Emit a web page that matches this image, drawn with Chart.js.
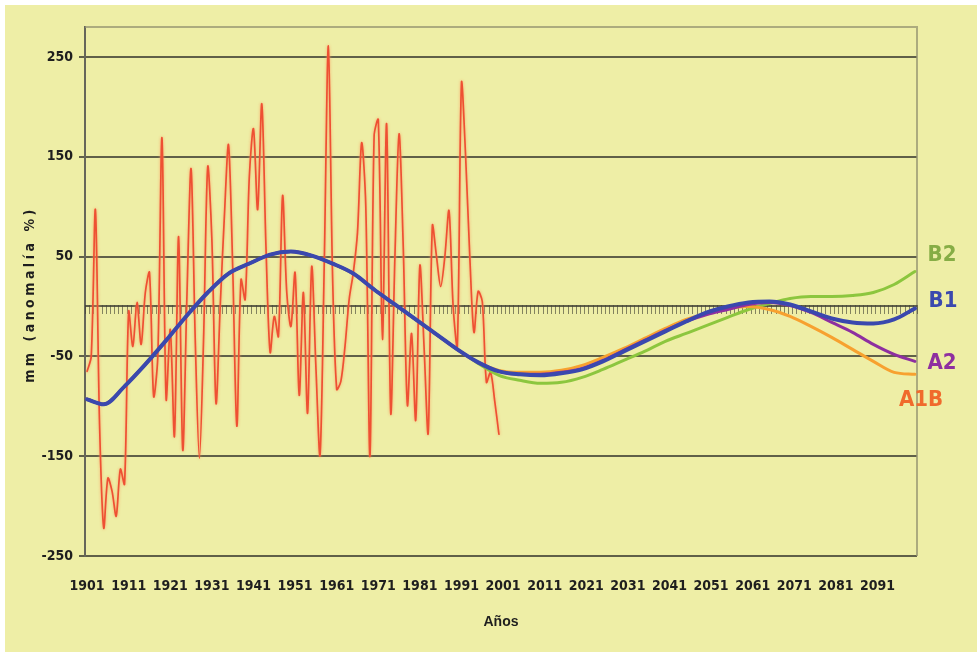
<!DOCTYPE html>
<html lang="es">
<head>
<meta charset="utf-8">
<title>Precipitación: anomalía observada y escenarios 1901-2100</title>
<script src="https://cdn.jsdelivr.net/npm/chart.js@4.4.1/dist/chart.umd.min.js"></script>
<style>
  html, body { margin: 0; padding: 0; background: #ffffff; }
  #wrap { width: 977px; height: 652px; }
  canvas { display: block; }
</style>
</head>
<body>
<div id="wrap"><canvas id="chart" width="977" height="652"></canvas></div>
<script>
// ---- data ----------------------------------------------------------------
// Observed anomaly, one value per year from 1901 to 2000
const obsStartYear = 1901;
const observed = [
  -65, -50, 97, -118, -222, -172, -185, -210, -163, -178,   // 1901-1910
  -5, -40, 4, -38, 14, 34, -90, -50, 169, -93,              // 1911-1920
  -23, -130, 70, -144, 10, 138, -33, -152, -33, 140,        // 1921-1930
  67, -97, 0, 90, 162, 40, -120, 27, 7, 130,                // 1931-1940
  178, 97, 203, 60, -46, -10, -30, 111, 14, -20,            // 1941-1950
  34, -89, 14, -107, 40, -60, -149, 40, 261, 33,            // 1951-1960
  -83, -75, -40, 7, 34, 74, 164, 100, -150, 171,            // 1961-1970
  187, -33, 183, -107, 50, 173, 60, -99, -27, -114,         // 1971-1980
  41, -40, -127, 81, 50, 20, 50, 96, 0, -40,                // 1981-1990
  224, 150, 50, -26, 15, 5, -76, -66, -95, -128             // 1991-2000
];

// Smoothed model series, one node every five years
const curveYears = [1901, 1905, 1910, 1915, 1920, 1925, 1930, 1935, 1940, 1945,
  1950, 1955, 1960, 1965, 1970, 1975, 1980, 1985, 1990, 1995,
  2000, 2005, 2010, 2015, 2020, 2025, 2030, 2035, 2040, 2045,
  2050, 2055, 2060, 2065, 2070, 2075, 2080, 2085, 2090, 2095, 2100];

const scenarioB1 = [-93, -98, -80, -58, -34, -9, 14, 33, 43, 52,
  55, 51, 43, 33, 17, 2, -13, -28, -43, -56,
  -65, -68, -69, -67, -63, -55, -45, -35, -25, -15,
  -6, 0, 4, 5, 2, -5, -12, -16, -17, -13, -2];

const scenarioA2 = [-93, -98, -80, -58, -34, -9, 14, 33, 43, 52,
  55, 51, 43, 33, 17, 2, -13, -28, -43, -56,
  -65, -68, -68, -66, -62, -54, -44, -34, -24, -15,
  -8, -3, 2, 4, 1, -6, -16, -26, -38, -48, -55];

const scenarioA1B = [-93, -98, -80, -58, -34, -9, 14, 33, 43, 52,
  55, 51, 43, 33, 17, 2, -13, -28, -43, -56,
  -64, -66, -66, -64, -59, -51, -42, -32, -22, -13,
  -7, -2, 0, -3, -10, -20, -31, -43, -55, -66, -68];

const scenarioB2 = [-93, -98, -80, -58, -34, -9, 14, 33, 43, 52,
  55, 51, 43, 33, 17, 2, -13, -28, -43, -57,
  -69, -74, -77, -76, -71, -63, -54, -45, -35, -27,
  -19, -11, -3, 3, 8, 10, 10, 11, 14, 22, 35];

// Axis ticks and texts
const xTickYears = [1901, 1911, 1921, 1931, 1941, 1951, 1961, 1971, 1981, 1991,
  2001, 2011, 2021, 2031, 2041, 2051, 2061, 2071, 2081, 2091];
const yTickValues = [-250, -150, -50, 50, 150, 250];
const xTitle = 'Años';
const yTitle = 'mm (anomalía %)';

// ---- styling ---------------------------------------------------------------
const PAPER = '#eeeea6';
const INK = '#1e1e1e';
const GRID = 'rgba(70,70,56,0.85)';
const CONDENSED = "'DejaVu Sans Condensed', 'Liberation Sans Narrow', 'Liberation Sans', sans-serif";

const scenarioStyle = {
  B1:  { line: '#3a48ae', text: '#3a48ae', width: 4, dx: 26, dy: -7 },
  A2:  { line: '#8e2fa0', text: '#8e2fa0', width: 3, dx: 25, dy: 2 },
  A1B: { line: '#f7a12f', text: '#f06a2c', width: 3, dx: 4,  dy: 26 },
  B2:  { line: '#8cc63e', text: '#86ad45', width: 3, dx: 25, dy: -16 }
};

const toPoints = (years, values) => values.map((v, i) => ({ x: years[i], y: v }));
const observedPoints = observed.map((v, i) => ({ x: obsStartYear + i, y: v }));

function scenarioDataset(name, values, order) {
  const s = scenarioStyle[name];
  return {
    label: name,
    data: toPoints(curveYears, values),
    borderColor: s.line,
    borderWidth: s.width,
    cubicInterpolationMode: 'monotone',
    pointRadius: 0,
    order: order
  };
}

// ---- plugins ---------------------------------------------------------------
// paper background with a thin white margin on the top and left
const paperPlugin = {
  id: 'paper',
  beforeDraw(chart) {
    const { ctx, width, height } = chart;
    ctx.save();
    ctx.fillStyle = '#ffffff';
    ctx.fillRect(0, 0, width, height);
    ctx.fillStyle = PAPER;
    ctx.fillRect(5, 5, width - 5, height - 5);
    ctx.restore();
  }
};

// plot frame and the hatched zero axis with one tick per year
const zeroAxisPlugin = {
  id: 'zeroAxis',
  beforeDatasetsDraw(chart) {
    const { ctx, chartArea: a, scales: { x, y } } = chart;
    const y0 = Math.round(y.getPixelForValue(0));
    ctx.save();
    ctx.strokeStyle = 'rgba(150,148,112,0.75)';
    ctx.lineWidth = 2;
    ctx.beginPath();
    ctx.moveTo(a.left, a.top);
    ctx.lineTo(a.right, a.top);
    ctx.lineTo(a.right, a.bottom);
    ctx.stroke();

    ctx.strokeStyle = 'rgba(60,60,48,0.6)';
    ctx.lineWidth = 1;
    ctx.beginPath();
    for (let yr = x.min; yr <= x.max + 0.001; yr += 1) {
      const px = Math.round(x.getPixelForValue(yr)) + 0.5;
      ctx.moveTo(px, y0 - 1);
      ctx.lineTo(px, y0 + 8);
    }
    ctx.stroke();

    ctx.strokeStyle = GRID;
    ctx.lineWidth = 2;
    ctx.beginPath();
    ctx.moveTo(a.left, y0);
    ctx.lineTo(a.right, y0);
    ctx.stroke();
    ctx.restore();
  }
};

// soft orange halo around the observed series
const haloPlugin = {
  id: 'halo',
  beforeDatasetDraw(chart, args) {
    if (chart.data.datasets[args.index].label !== 'Observado') return;
    const ctx = chart.ctx;
    ctx.save();
    ctx.shadowColor = 'rgba(250,160,100,0.95)';
    ctx.shadowBlur = 3;
  },
  afterDatasetDraw(chart, args) {
    if (chart.data.datasets[args.index].label !== 'Observado') return;
    chart.ctx.restore();
  }
};

// scenario names at the end of each curve, and the rotated y title
const labelsPlugin = {
  id: 'endLabels',
  afterDatasetsDraw(chart) {
    const { ctx, chartArea: a } = chart;
    ctx.save();
    ctx.font = "bold 22px " + CONDENSED;
    ctx.textAlign = 'center';
    ctx.textBaseline = 'middle';
    chart.data.datasets.forEach((ds, i) => {
      const s = scenarioStyle[ds.label];
      if (!s) return;
      const meta = chart.getDatasetMeta(i);
      const last = meta.data[meta.data.length - 1];
      ctx.fillStyle = s.text;
      ctx.fillText(ds.label, a.right + s.dx, last.y + s.dy);
    });
    ctx.restore();
  },
  afterDraw(chart) {
    const { ctx, chartArea: a } = chart;
    ctx.save();
    ctx.translate(30, (a.top + a.bottom) / 2 + 3);
    ctx.rotate(-Math.PI / 2);
    ctx.font = "bold 14px " + CONDENSED;
    if ('letterSpacing' in ctx) ctx.letterSpacing = '3.5px';
    ctx.textAlign = 'center';
    ctx.textBaseline = 'middle';
    ctx.fillStyle = INK;
    ctx.fillText(yTitle, 0, 0);
    ctx.restore();
  }
};

// ---- chart -----------------------------------------------------------------
new Chart(document.getElementById('chart'), {
  type: 'line',
  data: {
    datasets: [
      scenarioDataset('B1', scenarioB1, 0),
      scenarioDataset('A2', scenarioA2, 1),
      scenarioDataset('A1B', scenarioA1B, 2),
      scenarioDataset('B2', scenarioB2, 3),
      {
        label: 'Observado',
        data: observedPoints,
        borderColor: '#ee5033',
        borderWidth: 1.7,
        tension: 0.3,
        pointRadius: 0,
        order: 4
      }
    ]
  },
  options: {
    responsive: false,
    animation: false,
    events: [],
    layout: { padding: { left: 0, top: 27, right: 60, bottom: 0 } },
    plugins: { legend: { display: false }, tooltip: { enabled: false } },
    elements: { line: { borderCapStyle: 'round', borderJoinStyle: 'round' } },
    scales: {
      x: {
        type: 'linear',
        position: 'bottom',
        min: 1900.5,
        max: 2100.5,
        afterBuildTicks: (s) => { s.ticks = xTickYears.map(v => ({ value: v })); },
        afterFit: (s) => { s.height = 96; },
        grid: { display: false, drawTicks: false },
        border: { display: false },
        ticks: {
          autoSkip: false, maxRotation: 0, minRotation: 0, padding: 22,
          color: INK,
          font: { family: CONDENSED, size: 14, weight: 'bold' },
          callback: (v) => String(v)
        },
        title: {
          display: true, text: xTitle, color: INK,
          font: { family: "'Liberation Sans', Arial, sans-serif", size: 14, weight: 'bold' },
          padding: { top: 0, bottom: 21 }
        }
      },
      y: {
        min: -250,
        max: 280,
        afterBuildTicks: (s) => { s.ticks = yTickValues.map(v => ({ value: v })); },
        afterFit: (s) => { s.width = 85; },
        grid: { color: GRID, lineWidth: 2, drawTicks: true, tickLength: 6, tickColor: GRID },
        border: { display: true, color: '#66665a', width: 2 },
        ticks: {
          padding: 6, color: INK,
          font: { family: CONDENSED, size: 14, weight: 'bold' },
          callback: (v) => String(v)
        }
      }
    }
  },
  plugins: [paperPlugin, zeroAxisPlugin, haloPlugin, labelsPlugin]
});
</script>
</body>
</html>
